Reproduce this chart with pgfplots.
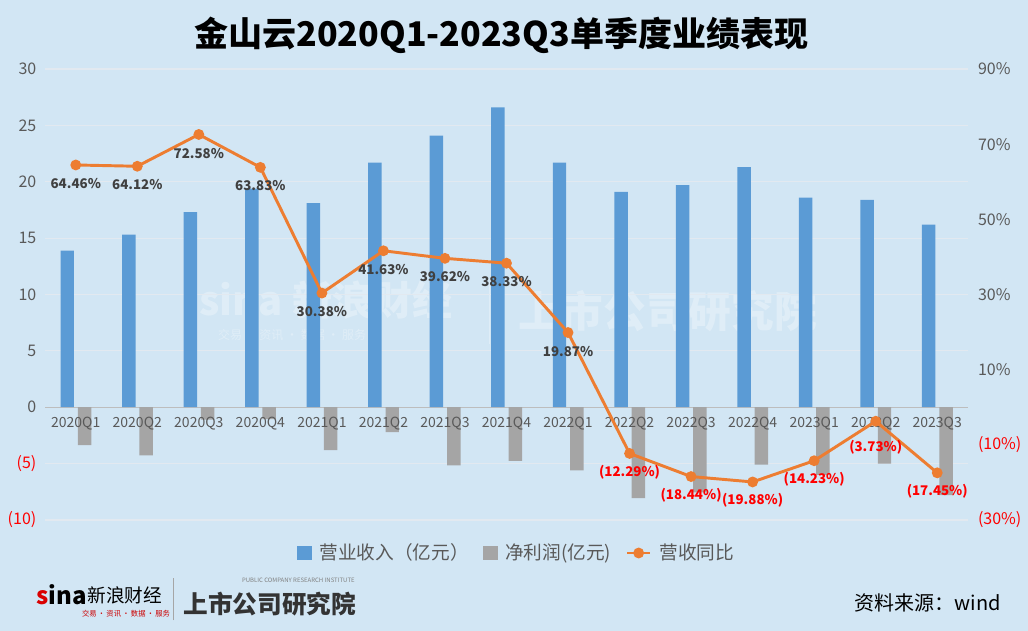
\documentclass[border=0pt]{standalone}
\usepackage{fontspec}
\setmainfont{Noto Sans CJK SC}
\usepackage{pgfplots}
\pgfplotsset{compat=1.18}

\definecolor{bgblue}{RGB}{210,230,244}
\definecolor{barblue}{RGB}{91,155,213}
\definecolor{bargray}{RGB}{165,165,165}
\definecolor{lineorange}{RGB}{237,125,49}
\definecolor{ticktext}{RGB}{89,89,89}
\definecolor{labeltext}{RGB}{64,64,64}
\definecolor{gridc}{RGB}{226,233,240}

\pgfplotsset{
  base/.style={
    scale only axis,
    width=692.25pt, height=338.25pt,
    at={(33.75pt,83.25pt)}, anchor=south west,
    xmin=-0.5, xmax=14.5,
    axis line style={draw=none},
    tick style={draw=none},
    /pgf/number format/assume math mode=true,
  },
}

\begin{document}
\begin{tikzpicture}
\fill[bgblue] (0,0) rectangle (771pt,473.25pt);

% faint watermark
\begin{scope}[white, opacity=0.3]
\node[font=\bfseries\itshape\fontsize{30}{30}\selectfont, anchor=west] at (146pt,248pt) {sina 新浪财经};
\node[font=\fontsize{9}{9}\selectfont, anchor=west] at (160pt,222pt) {交易\ ·\ 资讯\ ·\ 数据\ ·\ 服务};
\draw[line width=0.8pt] (367pt,215pt) -- (367pt,262pt);
\node[font=\bfseries\itshape\fontsize{32}{32}\selectfont, anchor=west] at (385pt,240pt) {上市公司研究院};
\end{scope}

% left axis: bars
\begin{axis}[base,
  ymin=-10, ymax=30,
  ytick={-10,-5,...,30},
  yticklabels={\textcolor{red}{(10)},\textcolor{red}{(5)},0,5,10,15,20,25,30},
  ymajorgrids, grid style={gridc, line width=0.9pt},
  yticklabel style={font=\fontsize{12}{12}\selectfont, text=ticktext, xshift=-3pt},
  xtick=\empty,
  extra y ticks={0}, extra y tick labels={},
  extra y tick style={grid style={draw=ticktext!40, line width=0.9pt}},
]
\addplot[ybar, bar width=10.1pt, bar shift=-6.4pt, fill=barblue, draw=none] coordinates {
(0,13.9) (1,15.3) (2,17.3) (3,19.4) (4,18.1) (5,21.7) (6,24.1) (7,26.6)
(8,21.7) (9,19.1) (10,19.7) (11,21.3) (12,18.6) (13,18.4) (14,16.2)
};
\addplot[ybar, bar width=10.1pt, bar shift=6.6pt, fill=bargray, draw=none] coordinates {
(0,-3.37) (1,-4.26) (2,-1.1) (3,-1.05) (4,-3.8) (5,-2.2) (6,-5.15) (7,-4.76)
(8,-5.6) (9,-8.05) (10,-7.55) (11,-5.1) (12,-6.0) (13,-5.0) (14,-7.8)
};
\end{axis}

% right axis: growth line
\begin{axis}[base,
  ymin=-30, ymax=90,
  axis y line*=right,
  ytick={-30,-10,10,30,50,70,90},
  yticklabels={\textcolor{red}{(30\%)},\textcolor{red}{(10\%)},10\%,30\%,50\%,70\%,90\%},
  yticklabel style={font=\fontsize{12}{12}\selectfont, text=ticktext, xshift=4pt},
  xtick={0,...,14},
  xticklabels={2020Q1,2020Q2,2020Q3,2020Q4,2021Q1,2021Q2,2021Q3,2021Q4,2022Q1,2022Q2,2022Q3,2022Q4,2023Q1,2023Q2,2023Q3},
  xticklabel style={font=\fontsize{10.5}{11}\selectfont, text=ticktext, anchor=center, yshift=72.5pt},
  legend columns=-1,
  legend style={at={(0.5,0)}, anchor=center, yshift=-24.75pt, xshift=8pt,
    draw=none, fill=none, font=\fontsize{14}{14}\selectfont, text=ticktext,
    /tikz/every odd column/.append style={column sep=4pt},
    /tikz/every even column/.append style={column sep=9pt}},
]
\addlegendimage{legend image code/.code={\fill[barblue] (0pt,-5pt) rectangle (10pt,5pt);}}
\addlegendentry{营业收入（亿元）}
\addlegendimage{legend image code/.code={\fill[bargray] (0pt,-5pt) rectangle (10pt,5pt);}}
\addlegendentry{净利润(亿元)}
\addplot[lineorange, line width=2.2pt, mark=*, mark size=2.9pt, mark options={fill=lineorange, draw=lineorange}] coordinates {
(0,64.46) (1,64.12) (2,72.58) (3,63.83) (4,30.38) (5,41.63) (6,39.62) (7,38.33)
(8,19.87) (9,-12.29) (10,-18.44) (11,-19.88) (12,-14.23) (13,-3.73) (14,-17.45)
};
\addlegendentry{营收同比}
% positive labels
\addplot[draw=none, forget plot, point meta=explicit symbolic,
  nodes near coords, nodes near coords style={font=\bfseries\fontsize{10}{10}\selectfont, text=labeltext, anchor=center, yshift=-14pt}]
coordinates {
(0,64.46) [64.46\%] (1,64.12) [64.12\%] (2,72.58) [72.58\%] (3,63.83) [63.83\%]
(4,30.38) [30.38\%] (5,41.63) [41.63\%] (6,39.62) [39.62\%] (7,38.33) [38.33\%]
(8,19.87) [19.87\%]
};
% negative labels
\addplot[draw=none, forget plot, point meta=explicit symbolic,
  nodes near coords, nodes near coords style={font=\bfseries\fontsize{10}{10}\selectfont, text=red, anchor=center, yshift=-14pt}]
coordinates {
(9,-12.29) [(12.29\%)] (10,-18.44) [(18.44\%)] (11,-19.88) [(19.88\%)]
(12,-14.23) [(14.23\%)] (14,-17.45) [(17.45\%)]
};
\addplot[draw=none, forget plot, point meta=explicit symbolic,
  nodes near coords, nodes near coords style={font=\bfseries\fontsize{10}{10}\selectfont, text=red, anchor=center, yshift=-19.5pt}]
coordinates {(13,-3.73) [(3.73\%)]};
\end{axis}

% title
\node[font=\bfseries\fontsize{25.5}{26}\selectfont] at (376pt,447pt) {金山云2020Q1-2023Q3单季度业绩表现};

% footer
\node[anchor=west, font=\bfseries\itshape\fontsize{18}{18}\selectfont] at (24pt,27pt) {\textcolor{red!85!black}{s}ina};
\node[anchor=west, font=\fontsize{14}{14}\selectfont] at (62pt,27pt) {新浪财经};
\node[anchor=west, font=\fontsize{5.5}{6}\selectfont, text=red!80!black] at (58pt,13pt) {交易\,·\,资讯\,·\,数据\,·\,服务};
\draw[gray!70, line width=0.5pt] (130pt,8pt) -- (130pt,40pt);
\node[anchor=west, font=\fontsize{4.5}{5}\selectfont, text=gray] at (178pt,38pt) {PUBLIC COMPANY RESEARCH INSTITUTE};
\node[anchor=west, font=\bfseries\itshape\fontsize{18.5}{18.5}\selectfont, text=black!80] at (134pt,20pt) {上市公司研究院};
\node[anchor=east, font=\fontsize{15}{15}\selectfont] at (754pt,21pt) {资料来源：wind};
\end{tikzpicture}
\end{document}
